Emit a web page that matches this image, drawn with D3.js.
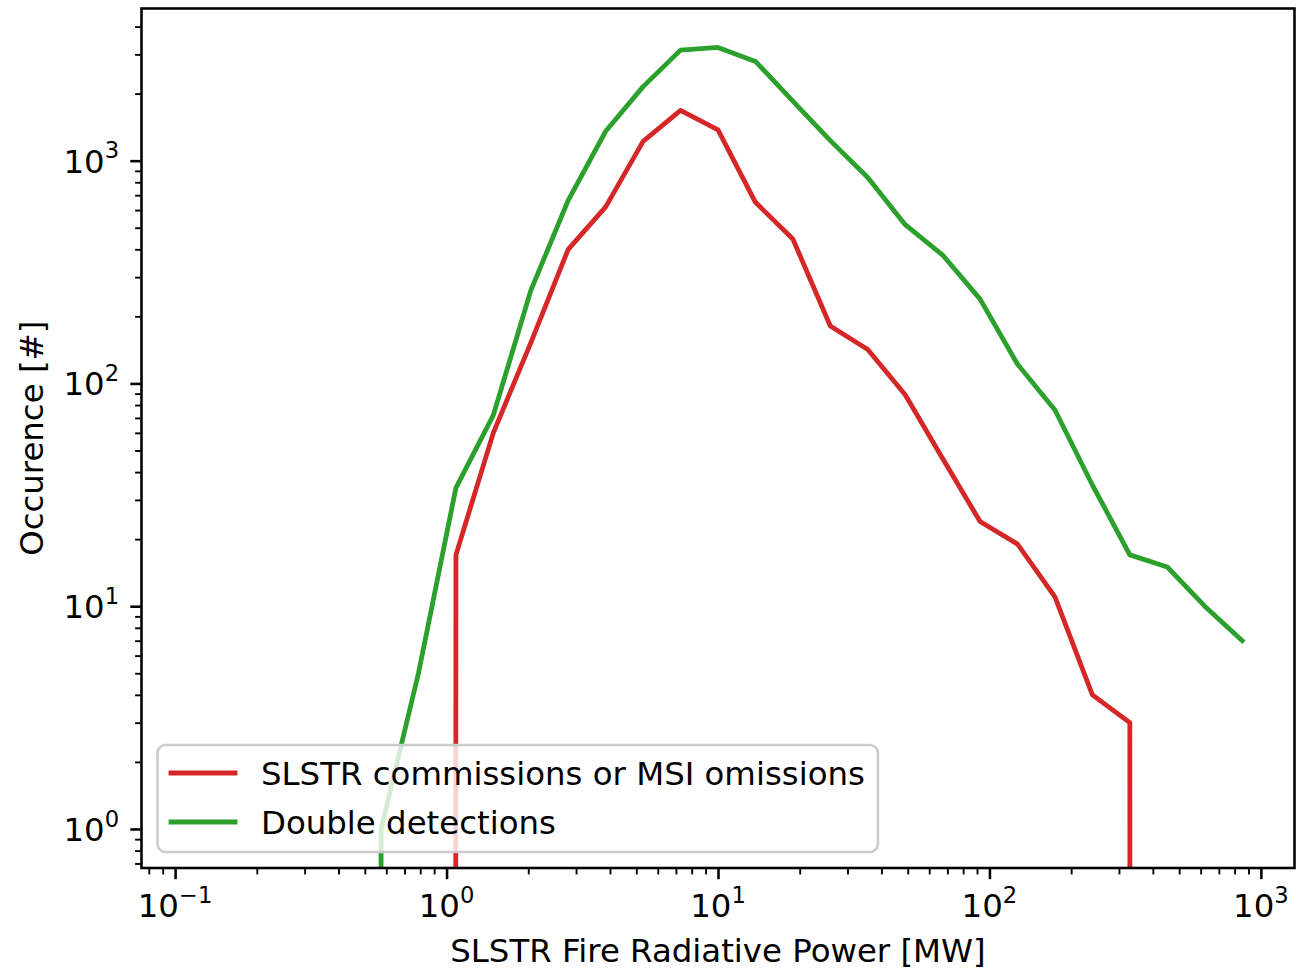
<!DOCTYPE html>
<html>
<head>
<meta charset="utf-8">
<script src="https://cdn.jsdelivr.net/npm/d3@7"></script>
<style>
  html, body { margin: 0; padding: 0; background: #ffffff; }
  svg { display: block; font-family: "DejaVu Sans", sans-serif; }
</style>
</head>
<body>
<svg id="chart" width="1296" height="969"></svg>
<script>
// Histogram bin centres (MW), log-spaced bins
const binCenters = [0.117, 0.161, 0.221, 0.304, 0.418, 0.574, 0.788, 1.083, 1.487, 2.043,
  2.807, 3.857, 5.298, 7.279, 10.0, 13.74, 18.87, 25.93, 35.62, 48.94,
  67.23, 92.36, 126.9, 174.3, 239.5, 329.0, 452.0, 621.0, 853.1];

// Counts per bin
const commissionCounts = [0, 0, 0, 0, 0, 0, 0, 17, 60, 152,
  400, 620, 1220, 1680, 1375, 650, 445, 181, 142, 89,
  46, 24, 19, 11, 4, 3, 0, 0, 0];
const doubleCounts = [0, 0, 0, 0, 0, 1, 5, 34, 72, 261,
  664, 1355, 2150, 3135, 3222, 2790, 1850, 1230, 841, 516,
  377, 239, 122, 76, 35, 17, 15, 10, 7];

const seriesNames = ["SLSTR commissions or MSI omissions", "Double detections"];
const seriesColors = ["#d62728", "#2ca02c"];

// Tick decades
const xTickExps = [-1, 0, 1, 2, 3];
const yTickExps = [0, 1, 2, 3];

const xLabel = "SLSTR Fire Radiative Power [MW]";
const yLabel = "Occurence [#]";

// ---- layout ----
const FS = 32.4;                   // base font size (px)
const pL = 141.5, pR = 1294.5, pT = 8.5, pB = 868;
const svg = d3.select("#chart");

const x = d3.scaleLog().domain([0.0752, 1330]).range([pL, pR]);
const y = d3.scaleLog().domain([0.668, 4820]).range([pB, pT]);

// zero counts are pushed far below the axis (log of zero is undefined)
const zeroFloor = 1e-300;

svg.append("defs").append("clipPath").attr("id", "plotClip")
  .append("rect").attr("x", pL).attr("y", pT)
  .attr("width", pR - pL).attr("height", pB - pT);

const line = d3.line()
  .x(d => x(d[0]))
  .y(d => y(d[1] > 0 ? d[1] : zeroFloor));

const series = [commissionCounts, doubleCounts];
const plot = svg.append("g").attr("clip-path", "url(#plotClip)");
series.forEach((vals, i) => {
  plot.append("path")
    .datum(binCenters.map((c, k) => [c, vals[k]]))
    .attr("d", line)
    .attr("fill", "none")
    .attr("stroke", seriesColors[i])
    .attr("stroke-width", 4.8)
    .attr("stroke-linejoin", "round")
    .attr("stroke-linecap", "square");
});

// ---- minor tick values ----
function minorTicks(scale, lo, hi) {
  const [d0, d1] = scale.domain();
  const out = [];
  for (let e = lo; e <= hi; e++) {
    for (let m = 2; m <= 9; m++) {
      const v = m * Math.pow(10, e);
      if (v >= d0 && v <= d1) out.push(v);
    }
  }
  return out;
}

const majW = 2.56, minW = 1.9, majL = 11.2, minL = 6.4;

function drawTicks(g, axisFn, scale, minorVals, majorVals) {
  const gMinor = g.append("g").call(axisFn(scale).tickValues(minorVals).tickSize(minL).tickFormat(""));
  const gMajor = g.append("g").call(axisFn(scale).tickValues(majorVals).tickSize(majL).tickFormat(""));
  g.selectAll(".domain").remove();
  gMinor.selectAll("line").attr("stroke", "#000").attr("stroke-width", minW);
  gMajor.selectAll("line").attr("stroke", "#000").attr("stroke-width", majW);
}

drawTicks(svg.append("g").attr("transform", `translate(0,${pB})`), d3.axisBottom, x,
  minorTicks(x, -2, 3), xTickExps.map(e => Math.pow(10, e)));
drawTicks(svg.append("g").attr("transform", `translate(${pL},0)`), d3.axisLeft, y,
  minorTicks(y, -1, 3), yTickExps.map(e => Math.pow(10, e)));

// power-of-ten labels
function powLabel(sel, exp) {
  sel.append("tspan").text("10");
  sel.append("tspan")
    .attr("font-size", FS * 0.7)
    .attr("dy", -FS * 0.44)
    .text(exp < 0 ? "\u2212" + Math.abs(exp) : String(exp));
}

xTickExps.forEach(e => {
  const t = svg.append("text")
    .attr("x", x(Math.pow(10, e)))
    .attr("y", 917)
    .attr("text-anchor", "middle")
    .attr("font-size", FS)
    .attr("fill", "#000");
  powLabel(t, e);
});

yTickExps.forEach(e => {
  const t = svg.append("text")
    .attr("x", pL - majL - 11.2)
    .attr("y", y(Math.pow(10, e)) + 12)
    .attr("text-anchor", "end")
    .attr("font-size", FS)
    .attr("fill", "#000");
  powLabel(t, e);
});

// axis titles
svg.append("text")
  .attr("x", (pL + pR) / 2)
  .attr("y", 962)
  .attr("text-anchor", "middle")
  .attr("font-size", FS)
  .attr("fill", "#000")
  .text(xLabel);

svg.append("text")
  .attr("transform", `translate(43,${(pT + pB) / 2}) rotate(-90)`)
  .attr("text-anchor", "middle")
  .attr("font-size", FS)
  .attr("fill", "#000")
  .text(yLabel);

// frame
svg.append("rect")
  .attr("x", pL).attr("y", pT)
  .attr("width", pR - pL).attr("height", pB - pT)
  .attr("fill", "none").attr("stroke", "#000").attr("stroke-width", majW);

// ---- legend (lower left) ----
const legG = svg.append("g");
const legLeft = pL + 16, legBottom = pB - 16;
const rowY = [773, 822];
const textX = 261;
const texts = seriesNames.map((name, i) =>
  legG.append("text")
    .attr("x", textX).attr("y", rowY[i] + 11.5)
    .attr("font-size", FS).attr("fill", "#000")
    .text(name));
const maxW = d3.max(texts, t => t.node().getComputedTextLength());
const legRight = textX + maxW + 13;
const legTop = 745;
legG.insert("rect", ":first-child")
  .attr("x", legLeft).attr("y", legTop)
  .attr("width", legRight - legLeft).attr("height", legBottom - legTop)
  .attr("rx", 8).attr("ry", 8)
  .attr("fill", "#fff").attr("fill-opacity", 0.8)
  .attr("stroke", "#cccccc").attr("stroke-width", 2.6);
seriesNames.forEach((name, i) => {
  legG.append("line")
    .attr("x1", 171).attr("x2", 235)
    .attr("y1", rowY[i]).attr("y2", rowY[i])
    .attr("stroke", seriesColors[i]).attr("stroke-width", 4.8)
    .attr("stroke-linecap", "square");
});
</script>
</body>
</html>
